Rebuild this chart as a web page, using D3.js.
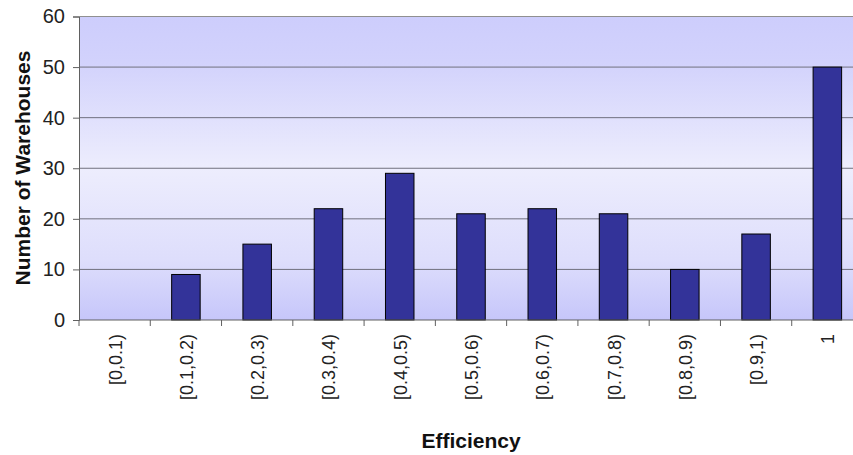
<!DOCTYPE html>
<html>
<head>
<meta charset="utf-8">
<script src="https://cdn.jsdelivr.net/npm/d3@7"></script>
<style>
  body { margin: 0; background: #fff; }
  svg { display: block; font-family: "Liberation Sans", Arial, sans-serif; }
</style>
</head>
<body>
<svg id="chart" width="853" height="455"></svg>
<script>
// Chart data
var categories = ["[0,0.1)", "[0.1,0.2)", "[0.2,0.3)", "[0.3,0.4)", "[0.4,0.5)", "[0.5,0.6)",
                  "[0.6,0.7)", "[0.7,0.8)", "[0.8,0.9)", "[0.9,1)", "1"];
var counts = [0, 9, 15, 22, 29, 21, 22, 21, 10, 17, 50];
var yTicks = [0, 10, 20, 30, 40, 50, 60];

var plotLeft = 79, plotRight = 863, plotTop = 16.5, plotBottom = 320;

var svg = d3.select("#chart");

// Background gradient of the plot area
var grad = svg.append("defs").append("linearGradient")
  .attr("id", "bg")
  .attr("x1", 0).attr("y1", 0).attr("x2", 0).attr("y2", 1);
grad.append("stop").attr("offset", "0%").attr("stop-color", "#cdcdfc");
grad.append("stop").attr("offset", "15%").attr("stop-color", "#d2d2fc");
grad.append("stop").attr("offset", "50%").attr("stop-color", "#ededfd");
grad.append("stop").attr("offset", "80%").attr("stop-color", "#dedefc");
grad.append("stop").attr("offset", "100%").attr("stop-color", "#c6c6fa");

// Scales
var x = d3.scaleBand()
  .domain(categories)
  .range([plotLeft, plotRight])
  .paddingInner(0.6)
  .paddingOuter(0.3);

var xEdge = d3.scaleBand()
  .domain(categories)
  .range([plotLeft, plotRight]);

var y = d3.scaleLinear()
  .domain([0, 60])
  .range([plotBottom, plotTop]);

svg.append("rect")
  .attr("x", plotLeft).attr("y", plotTop)
  .attr("width", plotRight - plotLeft).attr("height", plotBottom - plotTop)
  .attr("fill", "url(#bg)");

// Gridlines
svg.selectAll(".grid")
  .data(yTicks.slice(1))
  .enter()
  .append("line")
  .attr("class", "grid")
  .attr("x1", plotLeft).attr("x2", plotRight)
  .attr("y1", function(d) { return y(d); })
  .attr("y2", function(d) { return y(d); })
  .attr("stroke", "#70707e")
  .attr("stroke-width", 1);

// Bars
svg.selectAll(".bar")
  .data(counts)
  .enter()
  .append("rect")
  .attr("class", "bar")
  .attr("x", function(d, i) { return x(categories[i]); })
  .attr("width", x.bandwidth())
  .attr("y", function(d) { return y(d); })
  .attr("height", function(d) { return plotBottom - y(d); })
  .attr("fill", "#333399")
  .attr("stroke", "#000")
  .attr("stroke-width", 1);

// Y axis
var yAxis = svg.append("g")
  .attr("transform", "translate(" + plotLeft + ",0)")
  .call(d3.axisLeft(y).tickValues(yTicks).tickSize(6).tickPadding(8));
yAxis.select(".domain").attr("stroke", "#606060");
yAxis.selectAll(".tick line").attr("stroke", "#606060");
yAxis.selectAll("text")
  .attr("font-size", 20)
  .attr("fill", "#222")
  .attr("font-family", "Liberation Sans, Arial, sans-serif");

// X axis: ticks at band edges
var xAxis = svg.append("g")
  .attr("transform", "translate(0," + plotBottom + ")");
xAxis.append("line")
  .attr("x1", plotLeft).attr("x2", plotRight)
  .attr("stroke", "#606060");
xAxis.selectAll(".xtick")
  .data(categories)
  .enter()
  .append("line")
  .attr("class", "xtick")
  .attr("x1", function(d) { return xEdge(d); })
  .attr("x2", function(d) { return xEdge(d); })
  .attr("y1", 0).attr("y2", 6)
  .attr("stroke", "#606060");

xAxis.selectAll(".xlabel")
  .data(categories)
  .enter()
  .append("text")
  .attr("class", "xlabel")
  .attr("transform", function(d) {
    return "translate(" + (xEdge(d) + xEdge.bandwidth() / 2 + 7) + ",14) rotate(-90)";
  })
  .attr("text-anchor", "end")
  .attr("font-size", 18)
  .attr("fill", "#222")
  .text(function(d) { return d; });

// Plot top border
svg.append("line")
  .attr("x1", plotLeft).attr("x2", plotRight)
  .attr("y1", plotTop).attr("y2", plotTop)
  .attr("stroke", "#909090");

// Axis titles
svg.append("text")
  .attr("transform", "translate(30,168) rotate(-90)")
  .attr("text-anchor", "middle")
  .attr("font-size", 21)
  .attr("font-weight", "bold")
  .attr("fill", "#111")
  .text("Number of Warehouses");

svg.append("text")
  .attr("x", 471)
  .attr("y", 448)
  .attr("text-anchor", "middle")
  .attr("font-size", 21)
  .attr("font-weight", "bold")
  .attr("fill", "#111")
  .text("Efficiency");
</script>
</body>
</html>
